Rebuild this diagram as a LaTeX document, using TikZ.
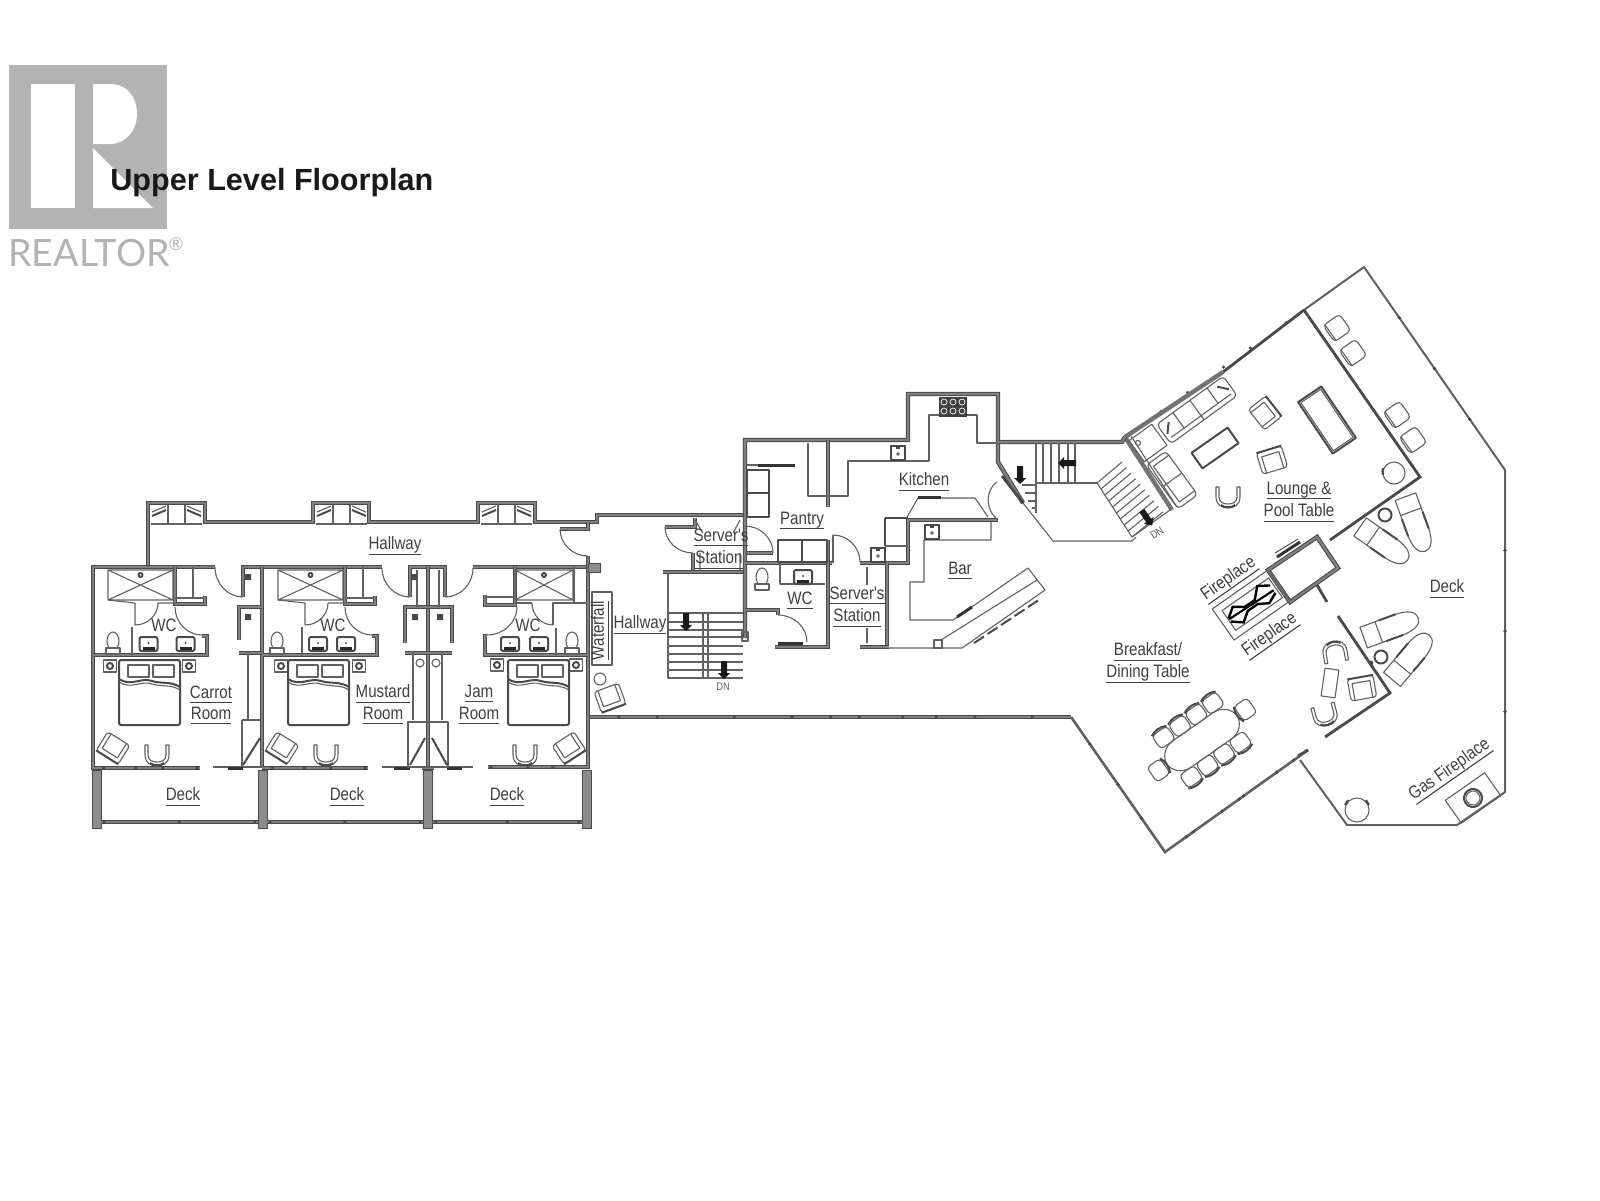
\documentclass[tikz,border=0pt]{standalone}
\usepackage{fontspec}
\setmainfont{Liberation Sans}
\newfontfamily\lblfont[FakeStretch=0.84]{Liberation Sans}
\newfontfamily\logofont{Lato}
\usetikzlibrary{calc}
\definecolor{logog}{HTML}{B3B3B3}
\definecolor{ink}{HTML}{4A4A4A}
\tikzset{
 thin line/.style={draw=black!62,line width=0.55pt,line join=round},
 med line/.style={draw=ink,line width=1pt,line join=round},
 wall/.style={draw=ink,line width=0.55pt,double=black!50,double distance=1.1pt,line join=miter},
 slimwall/.style={draw=ink,line width=1.4pt,line join=miter},
 outerwall/.style={draw=black!62,line width=1.3pt,line join=miter},
 heavy/.style={draw=black!80,line width=1.5pt},
 block/.style={draw=ink,fill=black!45,line width=0.5pt},
 lbl/.style={font=\lblfont\fontsize{9}{10}\selectfont,text=black!75,inner sep=0pt},
 dn/.style={font=\lblfont\fontsize{5.5}{6}\selectfont,text=black!60,inner sep=0pt},
}
\newcommand{\ul}[1]{\setbox0\hbox{#1}\rlap{\rule[-2.6pt]{\wd0}{0.55pt}}\box0}
\newcommand{\lab}[5]{\node[lbl,rotate=#4] (#1) at (#2,#3+2.5) {\ul{#5}};}
\newcommand{\doorarc}[6]{\draw[thin line] (#1,#2) .. controls ($(#1,#2)!.55!(#5,#6)$) and ($(#3,#4)!.55!(#5,#6)$) .. (#3,#4);}
\newcommand{\ticks}[5]{\foreach \t in {#5} \fill[ink] ($(#1,#2)!\t!(#3,#4)$) circle (1.8);}
\newcommand{\armchair}[3]{\begin{scope}[shift={(#1,#2)},rotate=#3]
 \draw[thin line,rounded corners=1.5] (-13,-11) rectangle (13,11);
 \draw[thin line] (-9,-11)--(-9,6)--(9,6)--(9,-11);
 \draw[med line] (-13,11)--(13,11);\end{scope}}
\newcommand{\uchair}[3]{\begin{scope}[shift={(#1,#2)},rotate=#3]
 \draw[thin line] (-12,-10)--(-12,0) .. controls (-12,8) and (-6,11) .. (0,11) .. controls (6,11) and (12,8) .. (12,0)--(12,-10)--(9,-10)--(9,0) .. controls (9,5) and (5,7) .. (0,7) .. controls (-5,7) and (-9,5) .. (-9,0)--(-9,-10)--cycle;
 \draw[med line] (-7,8) .. controls (-3,11) and (3,11) .. (7,8);\end{scope}}
\newcommand{\lounger}[3]{\begin{scope}[shift={(#1,#2)},rotate=#3]
 \draw[thin line] (-28,-11)--(8,-11) .. controls (24,-11) and (30,-6) .. (30,0) .. controls (30,6) and (24,11) .. (8,11)--(-28,11)--cycle;
 \draw[thin line] (-12,-11)--(-12,11);
 \draw[med line] (-8,-11)--(10,-11) (-8,11)--(10,11);\end{scope}}
\newcommand{\sink}[2]{\begin{scope}[shift={(#1,#2)}]
 \draw[med line,rounded corners=1] (-9,-7) rectangle (9,7);
 \fill[ink] (0,-1) circle (1.2);\fill[black!85] (-6,3) rectangle (6,6);\end{scope}}
\newcommand{\ksink}[2]{\begin{scope}[shift={(#1,#2)}]
 \draw[line width=1.1pt,draw=ink] (-7,-7) rectangle (7,7);
 \draw[thin line] (0,1) circle (1.3);\fill[ink] (-2,-7) rectangle (2,-4);\end{scope}}
\newcommand{\toilet}[2]{\begin{scope}[shift={(#1,#2)}]
 \draw[thin line] (0,-1) ellipse (6 and 9);
 \draw[thin line,fill=white] (-7,6) rectangle (7,12);\end{scope}}
\newcommand{\nstand}[2]{\draw[thin line] (#1-6.5,#2-6) rectangle (#1+6.5,#2+6);\draw[med line] (#1,#2) circle (3);}
\newcommand{\bed}[2]{\begin{scope}[shift={(#1,#2)}]
 \draw[med line,rounded corners=1] (0,0) rectangle (61,65);
 \draw[thin line] (9,5) rectangle (30,17) (34,5) rectangle (55,17);
 \draw[med line] (0,19) .. controls (12,27) and (22,17) .. (33,21) .. controls (42,24) and (52,21) .. (61,27);
 \draw[thin line] (0,22) .. controls (12,30) and (22,20) .. (33,24) .. controls (42,27) and (52,24) .. (61,30);\end{scope}}
\newcommand{\shower}[4]{\draw[thin line] (#1,#2) rectangle (#3,#4) (#1,#2)--(#3,#4) (#1,#4)--(#3,#2);
 \draw[med line] ($(#1,#2)!.5!(#3,#2)+(0,5)$) circle (2);}
\newcommand{\starrow}[3]{\begin{scope}[shift={(#1,#2)},rotate=#3]
 \fill[black!90] (-3,-9)--(3,-9)--(3,3)--(6,3)--(0,9)--(-6,3)--(-3,3)--cycle;\end{scope}}
\newcommand{\squarechair}[3]{\begin{scope}[shift={(#1,#2)},rotate=#3]
 \draw[thin line,rounded corners=2] (-10,-10) rectangle (10,10);\draw[thin line] (-8,10)--(-8,-10);\end{scope}}
\newcommand{\dinechair}[3]{\begin{scope}[shift={(#1,#2)},rotate=#3]
 \draw[thin line,rounded corners=2] (-9,-8) rectangle (9,8);\draw[med line] (-9,-8) .. controls (-3,-11) and (3,-11) .. (9,-8);\end{scope}}
\begin{document}
\begin{tikzpicture}[x=0.5pt,y=-0.5pt]
\useasboundingbox (0,0) rectangle (1600,1200);
\fill[white] (0,0) rectangle (1600,1200);
% ---- logo
\fill[logog] (9,65) rectangle (167,229);
\fill[white] (31,84) rectangle (75,208);
\fill[white] (93,84)--(110,84) .. controls (127,84) and (137,97) .. (137,114) .. controls (137,131) and (125,144) .. (110,144)--(93,144)--cycle;
\fill[white] (93,148)--(93,208)--(153,208)--cycle;
\node[font=\logofont\fontsize{18.8}{20}\selectfont,text=logog,inner sep=0pt,anchor=base west] (realtor) at (8,266) {REALTOR};
\node[font=\logofont\fontsize{9}{10}\selectfont,text=logog,inner sep=0pt] (regmark) at (176,244) {®};
\node[font=\bfseries\fontsize{15.3}{17}\selectfont,text=black!90,inner sep=0pt,anchor=base west] (title) at (110,190) {Upper Level Floorplan};
% ---- hall north wall with alcoves
\draw[wall] (148,567)--(148,503)--(205,503)--(205,522)--(313,522)--(313,503)--(369,503)--(369,522)--(478,522)--(478,503)--(535,503)--(535,522)--(597,522)--(597,515)--(743,515);
\foreach \a in {148,313,478}{
 \draw[thin line] (\a+3,524)--(\a+54,524) (\a+20,505)--(\a+20,524) (\a+37,505)--(\a+37,524);
 \draw[thin line] (\a+4,512)--(\a+18,506) (\a+39,506)--(\a+53,512);
 \draw[med line] (\a+4,516)--(\a+18,510) (\a+39,510)--(\a+53,516);}
% ---- bedroom outer walls
\draw[wall] (215,567)--(93,567)--(93,768)--(200,768);
\draw[wall] (243,597)--(243,567)--(382,567);
\draw[wall] (410,597)--(410,567)--(445,567)--(445,597);
\draw[wall] (473,567)--(588,567);
\draw[wall] (588,556)--(588,767)--(488,767);
\draw[wall] (262,567)--(262,768);
\draw[wall] (428,567)--(428,768);
\draw[wall] (262,768)--(368,768);
\draw[thin line] (213,767)--(262,767) (382,767)--(473,767);
\draw[heavy] (228,768)--(243,768);
\draw[heavy] (394,768)--(410,768) (447,768)--(462,768);
\draw[wall] (422,768)--(434,768);
\fill[block] (588,563) rectangle (600,572);
\draw[wall] (560,529)--(588,529)--(588,522);
\doorarc{560}{529}{588}{556}{560}{556}
\doorarc{215}{567}{243}{597}{215}{597}
\doorarc{382}{568}{410}{597}{382}{597}
\doorarc{473}{568}{445}{597}{473}{597}
% deck blocks and rails
\foreach \a in {92,258,423,582}{\fill[block] (\a,770) rectangle (\a+9.5,828);}
\draw[wall] (101,822)--(258,822) (267,822)--(423,822) (433,822)--(582,822);
\ticks{101}{822}{258}{822}{0.02,0.5,0.98}
\ticks{267}{822}{423}{822}{0.02,0.5,0.98}
\ticks{433}{822}{582}{822}{0.02,0.5,0.98}
\ticks{93}{768}{200}{768}{0.1,0.4,0.65,0.97}
\ticks{262}{768}{368}{768}{0.1,0.4,0.65,0.97}
\ticks{488}{767}{588}{767}{0.03,0.4,0.65}
% ---- room 1 and 2 bath walls
\foreach \d in {0,170}{
 \draw[wall] (93+\d,655)--(207+\d,655)--(207+\d,636)--(202+\d,636);
 \draw[wall] (175+\d,567)--(175+\d,604)--(205+\d,604)--(205+\d,596);
 \draw[thin line] (175+\d,598)--(204+\d,598) (193+\d,567)--(193+\d,598) (132+\d,627)--(132+\d,655);
 \draw[thin line] (108+\d,600)--(135+\d,603)--(135+\d,625) (158+\d,603)--(177+\d,603);
 \doorarc{135+\d}{625}{158+\d}{603}{158+\d}{625}
 \doorarc{175+\d}{607}{202+\d}{635}{175+\d}{635}
 \shower{108+\d}{570}{173+\d}{600}
}
\sink{148.5}{644}\sink{185.5}{644}\toilet{113}{642}\nstand{110}{666}\nstand{189}{666}\bed{119}{660}
\sink{318}{644}\sink{346}{644}\toilet{277}{642}\nstand{281}{666}\nstand{359}{666}\bed{288}{660}
% ---- room 3
\draw[wall] (487,636)--(485,636)--(485,655)--(588,655);
\draw[wall] (485,595)--(485,605)--(515,605)--(515,567);
\draw[thin line] (485,597)--(515,597) (574,567)--(574,603) (556,628)--(556,655);
\draw[thin line] (515,603)--(532,603) (553,625)--(553,603)--(587,603);
\doorarc{553}{625}{532}{603}{532}{625}
\doorarc{517}{607}{487}{635}{517}{635}
\shower{515}{570}{573}{600}
\sink{510}{644}\sink{539}{644}\toilet{572}{642}\nstand{497}{665}\nstand{576}{665}\bed{508}{660}
% ---- closets between rooms
\draw[wall] (239,640)--(239,607)--(262,607);
\draw[wall] (239,653)--(262,653);
\draw[thin line] (248,653)--(248,720) (242,720)--(242,767) (242,720)--(260,720);
\draw[med line] (243,765)--(260,738);
\fill[ink] (245,574) rectangle (251,580) (245,614) rectangle (251,620);
\draw[wall] (405,643)--(405,607)--(452,607)--(452,643);
\draw[wall] (405,653)--(452,653);
\draw[thin line] (417,570)--(417,607) (439,570)--(439,607) (413,653)--(413,720) (442,653)--(442,720) (408,722) rectangle (448,767);
\draw[med line] (410,765)--(425,738) (447,765)--(432,738);
\draw[thin line] (420,663) circle (4) (436,663) circle (4);
\fill[ink] (411,574) rectangle (417,580) (412,614) rectangle (418,620) (437,614) rectangle (443,620);
% chairs in rooms
\armchair{113}{748}{-32}\uchair{157}{755}{0}
\armchair{282}{748}{-32}\uchair{326}{755}{0}
\armchair{569}{748}{33}\uchair{525}{755}{0}
% ---- waterfall, sitting chair
\draw[thin line] (592,592) rectangle (612,665);
\armchair{610}{698}{20}
\draw[thin line] (600,679) circle (6);
% ---- south wall and east outline
\draw[wall] (590,717)--(1071,717);
\draw[outerwall] (1071,717)--(1165,852)--(1308,750);
\ticks{590}{717}{1071}{717}{0.06,0.14,0.3,0.42,0.5,0.56,0.65,0.72,0.8,0.92}
\ticks{1071}{717}{1165}{852}{0.2,0.5,0.75}
\ticks{1165}{852}{1308}{750}{0.15,0.2,0.4,0.52,0.55,0.78,0.9}
\draw[outerwall,line width=1pt] (1300,760)--(1347,825)--(1457,825)--(1505,792)--(1505,470)--(1364,267)--(1304,310);
\ticks{1505}{792}{1505}{470}{0.25,0.5,0.75}
\ticks{1505}{470}{1364}{267}{0.25,0.5,0.75}
\draw[slimwall] (1304,310)--(1223,372);
\ticks{1304}{310}{1125}{437}{0.1,0.3,0.45,0.65,0.8,0.93}
\draw[line width=2.2pt,draw=black!55] (1223,372)--(1125,437);
\draw[line width=2.2pt,draw=black!55] (1125,437)--(1172,510);
\draw[thin line] (1131,436)--(1177,507);
\draw[slimwall] (1304,310)--(1420,477)--(1330,540);
\ticks{1304}{310}{1420}{477}{0.1,0.28,0.42,0.6,0.75,0.93}
\draw[wall] (1317,537)--(1338,568)--(1290,602)--(1268,570)--cycle;
\draw[slimwall] (1317,585)--(1327,602);
\draw[heavy] (1277,557)--(1300,542);
\draw[thin line] (1275,553)--(1298,539);
\draw[slimwall] (1338,616)--(1390,693);
\draw[slimwall] (1390,693)--(1325,737);
\ticks{1338}{616}{1390}{693}{0.65,1}
\fill[ink] (1371,663) circle (2.4);
\draw[slimwall] (1298,756)--(1308,750);
% fireplace
\begin{scope}[shift={(1251,605)},rotate=35]
 \draw[thin line] (-34,-19) rectangle (34,19);
 \draw[thin line] (-27,-12) rectangle (30,12);
 \draw[black,line width=1.2pt] (-26,-2)--(-16,-9)--(-6,-2)--(6,-2)--(16,-12)--(27,-5);
 \draw[black,line width=1.2pt] (-26,2)--(-16,10)--(-6,3)--(6,3)--(16,9)--(27,4);
 \draw[black!50,line width=.5pt] (-26,0)--(27,0);
 \draw[black,line width=1pt] (-26,-1)--(27,1);
\end{scope}
% ---- central core: kitchen, pantry
\draw[wall] (745,638)--(745,440)--(908,440)--(908,394)--(998,394)--(998,462)--(1023,503);
\draw[wall] (998,442)--(1122,442)--(1125,437);
\draw[wall] (828,440)--(828,507);
\draw[thin line] (808,443)--(808,496)--(848,496)--(848,461)--(929,461)--(929,415)--(977,415)--(977,443)--(998,443);
\fill[black!75] (939,397) rectangle (967,417);
\foreach \u in {944,953,962}\foreach \v in {402,411}{\draw[white,line width=.35pt] (\u,\v) circle (3);}
\ksink{898}{453}
\draw[thin line] (747,465)--(795,465);
\draw[heavy] (758,465)--(795,465);
\draw[med line] (747,470) rectangle (769,517) (747,493)--(769,493);
\draw[wall] (695,518)--(695,527)--(665,527);
\draw[wall] (693,553)--(693,572);
\draw[wall] (663,572)--(743,572);
\draw[wall] (747,553)--(773,553);
\draw[thin line] (695,520)--(703,533) (740,520)--(733,533) (700,570)--(700,553) (740,570)--(740,553);
\doorarc{665}{527}{693}{553}{665}{553}
\doorarc{745}{526}{773}{553}{773}{526}
\draw[wall] (745,563)--(832,563);
\draw[wall] (828,540)--(828,647)--(775,647);
\draw[heavy] (778,643)--(803,643);
\draw[wall] (745,610)--(778,610)--(778,615);
\doorarc{778}{615}{807}{642}{807}{615}
\draw[wall] (860,563)--(908,563)--(908,520)--(998,520);
\draw[wall] (887,563)--(887,647);
\draw[wall] (860,647)--(889,647);
\doorarc{833}{535}{860}{562}{860}{535}
\draw[thin line] (833,535)--(833,563);
\draw[thin line] (867,567)--(867,585) (867,628)--(867,643);
\draw[thin line] (889,648)--(962,648)--(1045,590)--(1028,568)--(953,620)--(910,620)--(910,582)--(924,582)--(924,540)--(991,540)--(991,522);
\draw[thin line] (941,640)--(1037,580);
\draw[thin line] (934,640) rectangle (942,648);
\draw[heavy] (957,617)--(972,607);
\foreach \s in {0,1,2,3,4}{\draw[med line] ($(974,643)+(\s*13.5,-\s*9)$)--++(10,-6.5);}
\ksink{932}{532}\ksink{878}{555}
\draw[thin line] (907,517)--(918,498)--(975,498)--(988,517);
\draw[heavy] (918,497)--(941,497);
\draw[med line] (885,518)--(908,518);
\draw[med line] (885,518)--(885,546);
\draw[thin line] (885,546)--(908,546);
\draw[med line] (778,540) rectangle (827,562) (802,540)--(802,562);
\draw[thin line] (780,563)--(780,584)--(825,584);
\sink{803}{577}\toilet{762}{578}
\draw[thin line] (742,632) rectangle (748,641);
% ---- stairs 1
\draw[thin line] (668,573)--(668,678)--(743,678);
\foreach \v in {613,622,630,637,646,654,662,670}{\draw[thin line] (668,\v)--(743,\v);}
\draw[thin line] (703,613)--(703,678) (708,613)--(708,678);
\starrow{686}{622}{0}\starrow{724}{670}{0}
\node[dn] (dn1) at (723,687) {DN};
% ---- stairs 2
\foreach \u in {1036,1043,1051,1059,1068,1075}{\draw[thin line] (\u,443)--(\u,483);}
\draw[thin line] (1037,483)--(1097,483);
\foreach \v/\u in {485/1022,493/1025,501/1028,508/1032}{\draw[thin line] (\u,\v)--(1036,\v);}
\draw[thin line] (1036,483)--(1036,513);
\draw[thin line] (1023,503)--(1053,541)--(1132,541)--(1136,537);
\draw[thin line] (1097,483)--(1132,537)--(1170,510);
\foreach \t in {0,0.111,...,1.0}{\draw[thin line] ($(1097,483)!\t!(1132,537)$)--($(1122,462)!\t!(1163,512)$);}
\starrow{1067}{463}{-90}\starrow{1020}{475}{0}\starrow{1147}{518}{35}
\node[dn,rotate=35] (dn2) at (1157,533) {DN};
\draw[slimwall] (1002,476)--(1023,503);
\draw[thin line] (997,482) .. controls (985,490) and (985,510) .. (998,520);
% ---- lounge furniture
\begin{scope}[shift={(1327,420)},rotate=-56]
 \draw[med line] (-31,-14) rectangle (31,14);\draw[thin line] (-29,-12) rectangle (29,12);\end{scope}
\begin{scope}[shift={(1215,448)},rotate=35]
 \draw[med line] (-22,-9.5) rectangle (22,9.5);\end{scope}
\armchair{1265}{413}{128}\armchair{1272}{460}{-163}\uchair{1228}{497}{0}
\begin{scope}[shift={(1197,410)},rotate=36]
 \draw[thin line,rounded corners=2] (-41,-12) rectangle (41,12);
 \draw[thin line] (-21,-12)--(-21,7) (0,-12)--(0,12) (21,-12)--(21,7) (-37,7)--(37,7);
 \draw[med line] (-38,2)--(-30,-7) (38,2)--(30,-7);\end{scope}
\begin{scope}[shift={(1148,443)},rotate=36]
 \draw[thin line] (-14,-13) rectangle (14,13);\draw[thin line] (-8,-6) circle (2.5);\end{scope}
\begin{scope}[shift={(1172,480)},rotate=-54]
 \draw[thin line,rounded corners=2] (-27,-12) rectangle (27,12);
 \draw[thin line] (0,-12)--(0,12) (-22,-12)--(-22,7) (22,-12)--(22,7) (-22,7)--(22,7);\end{scope}
\squarechair{1337}{328}{35}\squarechair{1353}{353}{35}\squarechair{1397}{415}{35}\squarechair{1413}{440}{35}
\draw[thin line] (1394,473) circle (11);\draw[med line] (1383,468) arc[start angle=200,end angle=160,radius=10];
% ---- deck loungers
\lounger{1383}{543}{-35}\lounger{1415}{523}{-70}\lounger{1390}{628}{20}\lounger{1410}{658}{50}
\draw[med line] (1385,515) circle (6.5) (1381,657) circle (6.5);
% ---- seating near glass wall
\uchair{1335}{652}{190}\uchair{1325}{715}{15}\armchair{1362}{688}{-170}
\begin{scope}[shift={(1330,683)},rotate=-8]\draw[thin line] (-7,-14) rectangle (7,14);\end{scope}
% ---- dining table
\begin{scope}[shift={(1202,740)},rotate=35]
 \draw[thin line,rounded corners=9] (-43,-16) rectangle (43,16);
 \foreach \p in {-30,-10,10,30}{\dinechair{\p}{-24}{0}\dinechair{\p}{24}{180}}
 \dinechair{-53}{0}{-90}\dinechair{53}{0}{90}
\end{scope}
% ---- gas fireplace & deck table
\begin{scope}[shift={(1473,798)},rotate=35]
 \draw[thin line] (-24,-14) rectangle (24,14);\draw[med line] (0,0) circle (9);\draw[thin line] (0,0) circle (7);\end{scope}
\draw[thin line] (1357,810) circle (12);
\draw[med line] (1345,805)--(1348,800) (1369,805)--(1366,800);
% ---- labels
\lab{hall1}{395}{543}{0}{Hallway}
\lab{carrot}{211}{692}{0}{Carrot}\lab{carrotr}{211}{713}{0}{Room}
\lab{must}{383}{691}{0}{Mustard}\lab{mustr}{383}{713}{0}{Room}
\lab{jam}{479}{691}{0}{Jam}\lab{jamr}{479}{713}{0}{Room}
\node[lbl] (wc1) at (164,625) {WC};\node[lbl] (wc2) at (333,625) {WC};\node[lbl] (wc3) at (528,625) {WC};
\lab{deck1}{183}{794}{0}{Deck}\lab{deck2}{347}{794}{0}{Deck}\lab{deck3}{507}{794}{0}{Deck}
\lab{water}{600}{628}{90}{Waterfall}
\lab{hall2}{640}{622}{0}{Hallway}
\lab{serv1}{721}{535}{0}{Server's}\lab{stat1}{719}{557}{0}{Station}
\lab{pantry}{802}{518}{0}{Pantry}
\lab{kitchen}{924}{479}{0}{Kitchen}
\lab{wc4}{800}{598}{0}{WC}
\lab{serv2}{857}{593}{0}{Server's}\lab{stat2}{857}{615}{0}{Station}
\lab{bar}{960}{568}{0}{Bar}
\lab{lounge}{1299}{488}{0}{Lounge \&}\lab{pool}{1299}{510}{0}{Pool Table}
\lab{fire1}{1229}{577}{35}{Fireplace}\lab{fire2}{1270}{633}{35}{Fireplace}
\lab{break}{1148}{649}{0}{Breakfast/}\lab{dining}{1148}{671}{0}{Dining Table}
\lab{deck4}{1447}{586}{0}{Deck}
\lab{gas}{1450}{768}{35}{Gas Fireplace}
\end{tikzpicture}
\end{document}
